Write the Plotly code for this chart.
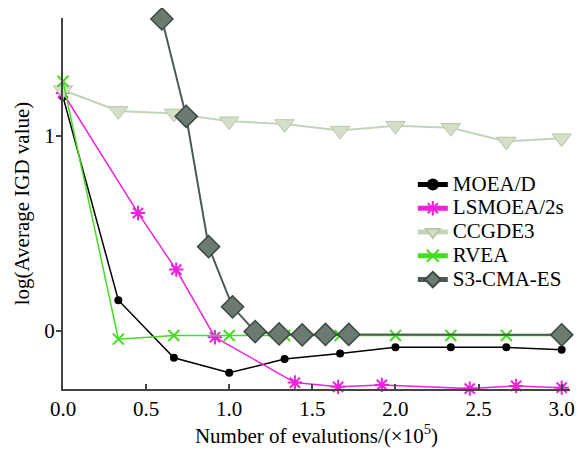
import plotly.graph_objects as go

# Data
x_common = [0.0, 0.333, 0.667, 1.0, 1.333, 1.667, 2.0, 2.333, 2.667, 3.0]

moead_y = [1.20, 0.156, -0.14, -0.217, -0.146, -0.118, -0.085, -0.085, -0.086, -0.098]

lsmoea_x = [0.0, 0.451, 0.681, 0.914, 1.395, 1.655, 1.918, 2.447, 2.726, 3.0]
lsmoea_y = [1.22, 0.604, 0.313, -0.034, -0.267, -0.289, -0.279, -0.298, -0.284, -0.293]

ccgde3_y = [1.235, 1.128, 1.115, 1.075, 1.061, 1.027, 1.052, 1.041, 0.971, 0.988]

rvea_y = [1.28, -0.044, -0.025, -0.025, -0.025, -0.025, -0.025, -0.025, -0.025, -0.025]

s3_x = [0.595, 0.741, 0.876, 1.02, 1.156, 1.30, 1.439, 1.579, 1.719, 3.0]
s3_y = [1.60, 1.10, 0.431, 0.122, -0.005, -0.017, -0.022, -0.02, -0.02, -0.022]

x_ticks = [0.0, 0.5, 1.0, 1.5, 2.0, 2.5, 3.0]
y_ticks = [0, 1]

FONT = "Liberation Serif"


def leg(name):
    return f'<span style="font-size:21px">{name}</span>'


fig = go.Figure()
fig.add_trace(go.Scatter(
    x=x_common, y=moead_y, name=leg("MOEA/D"), mode="lines+markers",
    line=dict(color="#000000", width=1.5),
    marker=dict(symbol="circle", size=8, color="#000000"),
    cliponaxis=False))
fig.add_trace(go.Scatter(
    x=lsmoea_x, y=lsmoea_y, name=leg("LSMOEA/2s"), mode="lines+markers",
    line=dict(color="#ee22dd", width=1.5),
    marker=dict(symbol="asterisk-open", size=12, color="#ee22dd",
                line=dict(color="#ee22dd", width=2)),
    cliponaxis=False))
fig.add_trace(go.Scatter(
    x=x_common, y=ccgde3_y, name=leg("CCGDE3"), mode="lines+markers",
    line=dict(color="#c4d4b8", width=2),
    marker=dict(symbol="triangle-down", size=17, color="#d4dec8",
                line=dict(color="#b8c8aa", width=1)),
    cliponaxis=False))
fig.add_trace(go.Scatter(
    x=x_common, y=rvea_y, name=leg("RVEA"), mode="lines+markers",
    line=dict(color="#44dd22", width=1.5),
    marker=dict(symbol="x-thin-open", size=11, color="#44dd22",
                line=dict(color="#44dd22", width=2)),
    cliponaxis=False))
fig.add_trace(go.Scatter(
    x=s3_x, y=s3_y, name=leg("S3-CMA-ES"), mode="lines+markers",
    line=dict(color="#4a5a52", width=2),
    marker=dict(symbol="diamond", size=17, color="#6b7b72",
                line=dict(color="#3a4a42", width=1.5)),
    cliponaxis=False))

# page body has an 8px margin; the figure is sized so the plot lands where the reference has it
fig.update_layout(
    width=577, height=444,
    margin=dict(l=55, r=13, t=10, b=59),
    plot_bgcolor="white", paper_bgcolor="white",
    font=dict(family=FONT, size=21, color="#000000"),
    showlegend=True,
    legend=dict(x=0.69, y=0.597, xanchor="left", yanchor="top",
                bgcolor="rgba(255,255,255,0)", font=dict(size=16, family=FONT),
                tracegroupgap=0, itemsizing="constant"),
)
fig.update_xaxes(
    range=[0, 3.05], tickvals=x_ticks, ticktext=[f"{v:.1f}" for v in x_ticks],
    showgrid=False, zeroline=False, showline=True, linecolor="#444444", linewidth=2,
    ticks="inside", ticklen=5, tickcolor="#444444", tickwidth=1.5,
    tickfont=dict(family=FONT, size=21),
    title=dict(text="Number of evalutions/(×10<sup>5</sup>)", font=dict(family=FONT, size=21), standoff=6),
)
fig.update_yaxes(
    range=[-0.30, 1.605], tickvals=y_ticks, ticktext=["0", "1"],
    showgrid=False, zeroline=False, showline=True, linecolor="#444444", linewidth=2,
    ticks="outside", ticklen=5, tickcolor="#444444", tickwidth=1.5,
    ticklabelstandoff=-3,
    tickfont=dict(family=FONT, size=21),
    title=dict(text="log(Average IGD value)", font=dict(family=FONT, size=21), standoff=9),
)

fig.write_html("out.html")
